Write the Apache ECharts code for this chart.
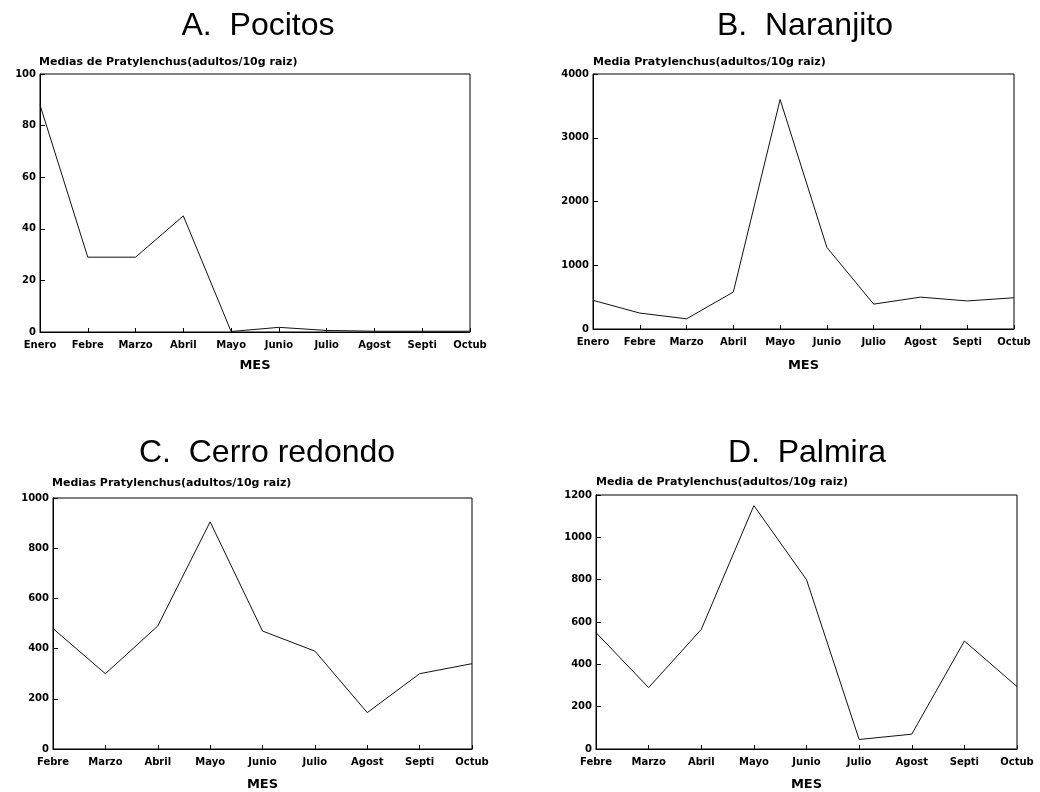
<!DOCTYPE html>
<html>
<head>
<meta charset="utf-8">
<script src="https://cdn.jsdelivr.net/npm/echarts@6/dist/echarts.min.js"></script>
<style>html,body{margin:0;padding:0;background:#fff}#c{width:1040px;height:792px}</style>
</head>
<body>
<div id="c"></div>
<script>
const monthsAB = ['Enero','Febre','Marzo','Abril','Mayo','Junio','Julio','Agost','Septi','Octub'];
const monthsCD = ['Febre','Marzo','Abril','Mayo','Junio','Julio','Agost','Septi','Octub'];
const pocitos = [88, 29, 29, 45, 0.2, 1.8, 0.6, 0.3, 0.3, 0.3];
const naranjito = [450, 250, 160, 580, 3600, 1280, 390, 500, 440, 490];
const cerroRedondo = [480, 300, 490, 905, 470, 390, 145, 300, 340];
const palmira = [550, 290, 565, 1150, 800, 45, 70, 510, 295];
const yMax = [100, 4000, 1000, 1200];
const yStep = [20, 1000, 200, 200];
const panelTitles = ['A.  Pocitos', 'B.  Naranjito', 'C.  Cerro redondo', 'D.  Palmira'];
const yTitles = ['Medias de Pratylenchus(adultos/10g raiz)', 'Media Pratylenchus(adultos/10g raiz)',
                 'Medias Pratylenchus(adultos/10g raiz)', 'Media de Pratylenchus(adultos/10g raiz)'];
const xName = 'MES';

const grids = [
  {left: 40, right: 570, top: 74, bottom: 460},
  {left: 593, right: 26, top: 74, bottom: 463},
  {left: 53, right: 568, top: 498, bottom: 39},
  {left: 596, right: 23, top: 495, bottom: 43}
];
const titlePos = [[253, 5], [800, 5], [262, 432], [802, 432]];
const subPos = [[39, 57], [593, 57], [52, 478], [596, 477]];
const nameGaps = [27, 30, 29, 29];
const cats = [monthsAB, monthsAB, monthsCD, monthsCD];
const data = [pocitos, naranjito, cerroRedondo, palmira];

const labFont = {fontFamily: 'DejaVu Sans', fontWeight: 'bold', fontSize: 10, color: '#000'};
const titles = [];
panelTitles.forEach((t, i) => titles.push({
  text: t, left: titlePos[i][0], top: titlePos[i][1], textAlign: 'center',
  textStyle: {fontFamily: 'Liberation Sans', fontWeight: 'normal', fontSize: 32, color: '#000'}
}));
yTitles.forEach((t, i) => titles.push({
  text: t, left: subPos[i][0], top: subPos[i][1], padding: 0,
  textStyle: Object.assign({}, labFont, {fontSize: 11})
}));

const option = {
  animation: false,
  backgroundColor: '#fff',
  title: titles,
  grid: grids.map(g => Object.assign({show: true, borderColor: '#000', borderWidth: 1, backgroundColor: 'transparent'}, g)),
  xAxis: cats.map((c, i) => ({
    type: 'category', data: c, gridIndex: i, boundaryGap: false,
    name: xName, nameLocation: 'middle', nameGap: nameGaps[i],
    nameTextStyle: {fontFamily: 'DejaVu Sans', fontWeight: 'bold', fontSize: 13, color: '#000'},
    axisLine: {lineStyle: {color: '#000', width: 1}},
    axisTick: {inside: true, length: 4, lineStyle: {color: '#000'}},
    axisLabel: Object.assign({margin: 8, interval: 0}, labFont),
    splitLine: {show: false}
  })),
  yAxis: yMax.map((m, i) => ({
    type: 'value', gridIndex: i, min: 0, max: m, interval: yStep[i],
    axisLine: {show: true, lineStyle: {color: '#000', width: 1}},
    axisTick: {show: true, inside: true, length: 5, lineStyle: {color: '#000'}},
    axisLabel: Object.assign({margin: 4, formatter: v => String(v)}, labFont),
    splitLine: {show: false}
  })),
  series: data.map((d, i) => ({
    type: 'line', data: d, xAxisIndex: i, yAxisIndex: i,
    showSymbol: false, symbol: 'none',
    lineStyle: {color: '#111', width: 1}
  }))
};
const chart = echarts.init(document.getElementById('c'));
chart.setOption(option);
</script>
</body>
</html>
